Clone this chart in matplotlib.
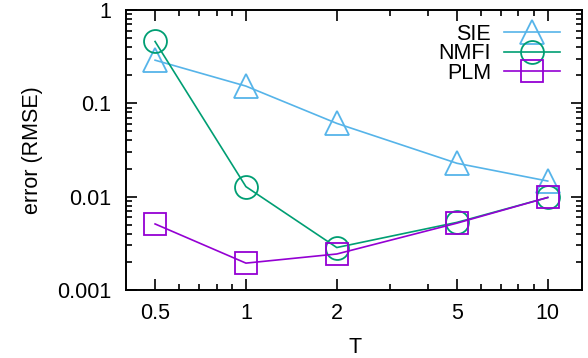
import matplotlib
matplotlib.use("Agg")
import matplotlib.pyplot as plt
from matplotlib.ticker import FixedLocator, NullFormatter

plt.rcParams['font.family'] = ['Liberation Sans', 'DejaVu Sans']

T = [0.5, 1, 2, 5, 10]
sie = [0.29, 0.153, 0.061, 0.0228, 0.0147]
nmfi = [0.46, 0.0128, 0.00285, 0.0053, 0.0098]
plm = [0.0051, 0.00194, 0.00243, 0.0052, 0.0098]
xtick_labels = ['0.5', '1', '2', '5', '10']
ytick_vals = [0.001, 0.01, 0.1, 1]
ytick_labels = ['0.001', '0.01', '0.1', '1']

fs = 15.5
fig = plt.figure(figsize=(5.88, 3.58), dpi=100)
ax = fig.add_axes([0.214, 0.19, 0.776, 0.782])

lw = 1.2
ax.plot(T, sie, color='#56b4e9', lw=lw, marker='^', ms=17, mfc='none', mew=1.3, label='SIE')
ax.plot(T, nmfi, color='#009e73', lw=lw, marker='o', ms=16.5, mfc='none', mew=1.3, label='NMFI')
ax.plot(T, plm, color='#9400d3', lw=lw, marker='s', ms=15.5, mfc='none', mew=1.3, label='PLM')

ax.set_xscale('log')
ax.set_yscale('log')
ax.set_xlim(0.4, 13)
ax.set_ylim(0.001, 1)

ax.xaxis.set_major_locator(FixedLocator(T))
ax.set_xticklabels(xtick_labels)
ax.xaxis.set_minor_locator(FixedLocator([0.6, 0.7, 0.8, 0.9, 3, 4, 6, 7, 8, 9]))
ax.xaxis.set_minor_formatter(NullFormatter())
ax.yaxis.set_major_locator(FixedLocator(ytick_vals))
ax.set_yticklabels(ytick_labels)
ax.yaxis.set_minor_locator(FixedLocator([m * 10.0**e for e in (-3, -2, -1) for m in range(2, 10)]))
ax.yaxis.set_minor_formatter(NullFormatter())

ax.tick_params(which='both', direction='in', top=True, right=True, width=1.2, labelsize=fs)
ax.tick_params(which='major', length=8)
ax.tick_params(axis='x', which='major', pad=9.5)
ax.tick_params(axis='y', which='major', pad=10.5)
ax.tick_params(which='minor', length=4)
for s in ax.spines.values():
    s.set_linewidth(1.4)

ax.set_xlabel('T', fontsize=fs, va='top')
ax.set_ylabel('error (RMSE)', fontsize=fs)
ax.xaxis.set_label_coords(0.502, -0.168)
ax.yaxis.set_label_coords(-0.182, 0.5)

ax.legend(loc='upper right', frameon=False, markerfirst=False, fontsize=fs,
          handlelength=2.6, handletextpad=0.62, labelspacing=-0.08,
          borderaxespad=0.0, borderpad=0.0, bbox_to_anchor=(0.952, 0.95))

fig.savefig('out.png', dpi=100)
